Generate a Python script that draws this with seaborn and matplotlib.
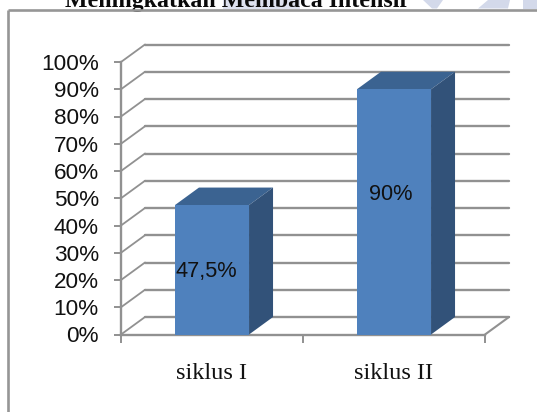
import matplotlib
matplotlib.use("Agg")
import matplotlib.pyplot as plt
import pandas as pd
import seaborn as sns
from matplotlib.patches import Polygon
from matplotlib.lines import Line2D
from matplotlib.ticker import FuncFormatter

categories = ["siklus I", "siklus II"]
values = [47.5, 90]
value_labels = ["47,5%", "90%"]
yticks = list(range(0, 101, 10))
title = "Meningkatkan Membaca Intensif"

W, H = 537, 412
LEFT, RIGHT, TOP, BOTTOM = 121, 485, 62, 334.5
DX, DY = 24 / 182, 17.5 / 2.725   # 3-D depth in data units
FRONT = "#4f81bd"
TOP_C = "#3b6391"
SIDE = "#325279"
GRID = "#919191"

sns.set_theme(style="white")
fig = plt.figure(figsize=(W / 100, H / 100), dpi=100, facecolor="white")


def fx(px):
    return px / W


def fy(py):
    return 1 - py / H


# pale watermark fragments behind the title
for pts, col in [
    ([(223, 0), (300, 0), (300, 8.5), (223, 8.5)], "#dde1ef"),
    ([(423, 0), (443, 0), (437, 8.5), (432, 8.5)], "#d3d9ea"),
    ([(488, 0), (510, 0), (508, 8.5), (478, 8.5)], "#d3d9ea"),
    ([(523, 0), (537, 0), (537, 8.5), (523, 8.5)], "#d3d9ea"),
]:
    fig.patches.append(Polygon([(fx(x), fy(y)) for x, y in pts], closed=True,
                               transform=fig.transFigure, fc=col, ec="none", zorder=0))

fig.text(fx(236.5), fy(7.5), title, family="Liberation Serif", weight="bold",
         fontsize=17.2, color="#0a0a0a", ha="center", va="baseline", zorder=1)

# chart frame (runs off the right and bottom edges of the crop)
fig.patches.append(Polygon([(fx(8), fy(9)), (1, fy(9)), (1, 0), (fx(8), 0)], closed=True,
                           transform=fig.transFigure, fc="white", ec="none", zorder=1))
frame = dict(color="#969696", lw=1.9, transform=fig.transFigure, zorder=2, solid_capstyle="butt")
fig.add_artist(Line2D([fx(7.6), 1], [fy(9.8), fy(9.8)], **frame))
fig.add_artist(Line2D([fx(8.3), fx(8.3)], [fy(9.8), 0], **frame))

ax = fig.add_axes([fx(LEFT), fy(BOTTOM), fx(RIGHT - LEFT), (BOTTOM - TOP) / H])
ax.patch.set_alpha(0)
ax.set_zorder(3)
df = pd.DataFrame({"siklus": categories, "nilai": values})
sns.barplot(data=df, x="siklus", y="nilai", color=FRONT, saturation=1, width=0.407,
            linewidth=0, edgecolor="none", ax=ax, zorder=5)
ax.set_xlim(-0.5, 1.5)
ax.set_ylim(0, 100)
ax.set_xlabel("")
ax.set_ylabel("")

x0, x1 = ax.get_xlim()
gkw = dict(color=GRID, clip_on=False, zorder=2, solid_capstyle="round")
for v in yticks:
    ax.plot([x0 + DX, x1 + DX], [v + DY, v + DY], lw=1.7, **gkw)
    ax.plot([x0, x0 + DX], [v, v + DY], lw=1.3, **gkw)
ax.plot([x1, x1 + DX], [0, DY], lw=1.5, **gkw)

for bar in ax.patches[:]:
    a, w, h = bar.get_x(), bar.get_width(), bar.get_height()
    ax.add_patch(Polygon([(a, h), (a + w, h), (a + w + DX, h + DY), (a + DX, h + DY)],
                         fc=TOP_C, ec="none", clip_on=False, zorder=4))
    ax.add_patch(Polygon([(a + w, 0), (a + w + DX, DY), (a + w + DX, h + DY), (a + w, h)],
                         fc=SIDE, ec="none", clip_on=False, zorder=4))

ax.text(-0.03, 23.3, value_labels[0], family="Liberation Sans", fontsize=15.7, color="#111111",
        ha="center", va="center", zorder=6)
ax.text(0.98, 51.5, value_labels[1], family="Liberation Sans", fontsize=15.7, color="#111111",
        ha="center", va="center", zorder=6)

for s in ["top", "right"]:
    ax.spines[s].set_visible(False)
for s in ["left", "bottom"]:
    ax.spines[s].set_color(GRID)
    ax.spines[s].set_linewidth(1.7)

ax.set_yticks(yticks)
ax.yaxis.set_major_formatter(FuncFormatter(lambda v, _: f"{int(v)}%"))
ax.tick_params(axis="y", left=True, length=5, width=1.4, color=GRID, pad=11, labelsize=16.2,
               labelcolor="#111111")
ax.set_xticks([-0.5, 0.5, 1.5])
ax.set_xticklabels([])
ax.tick_params(axis="x", bottom=True, length=6, width=1.4, color=GRID)
for lab in ax.get_yticklabels():
    lab.set_family("Liberation Sans")

for i, c in enumerate(categories):
    ax.annotate(c, xy=(i, 0), xytext=(0, -39), textcoords="offset pixels",
                family="Liberation Serif", fontsize=17.5, color="#111111",
                ha="center", va="center", annotation_clip=False, zorder=6)

fig.savefig("out.png", dpi=100)
